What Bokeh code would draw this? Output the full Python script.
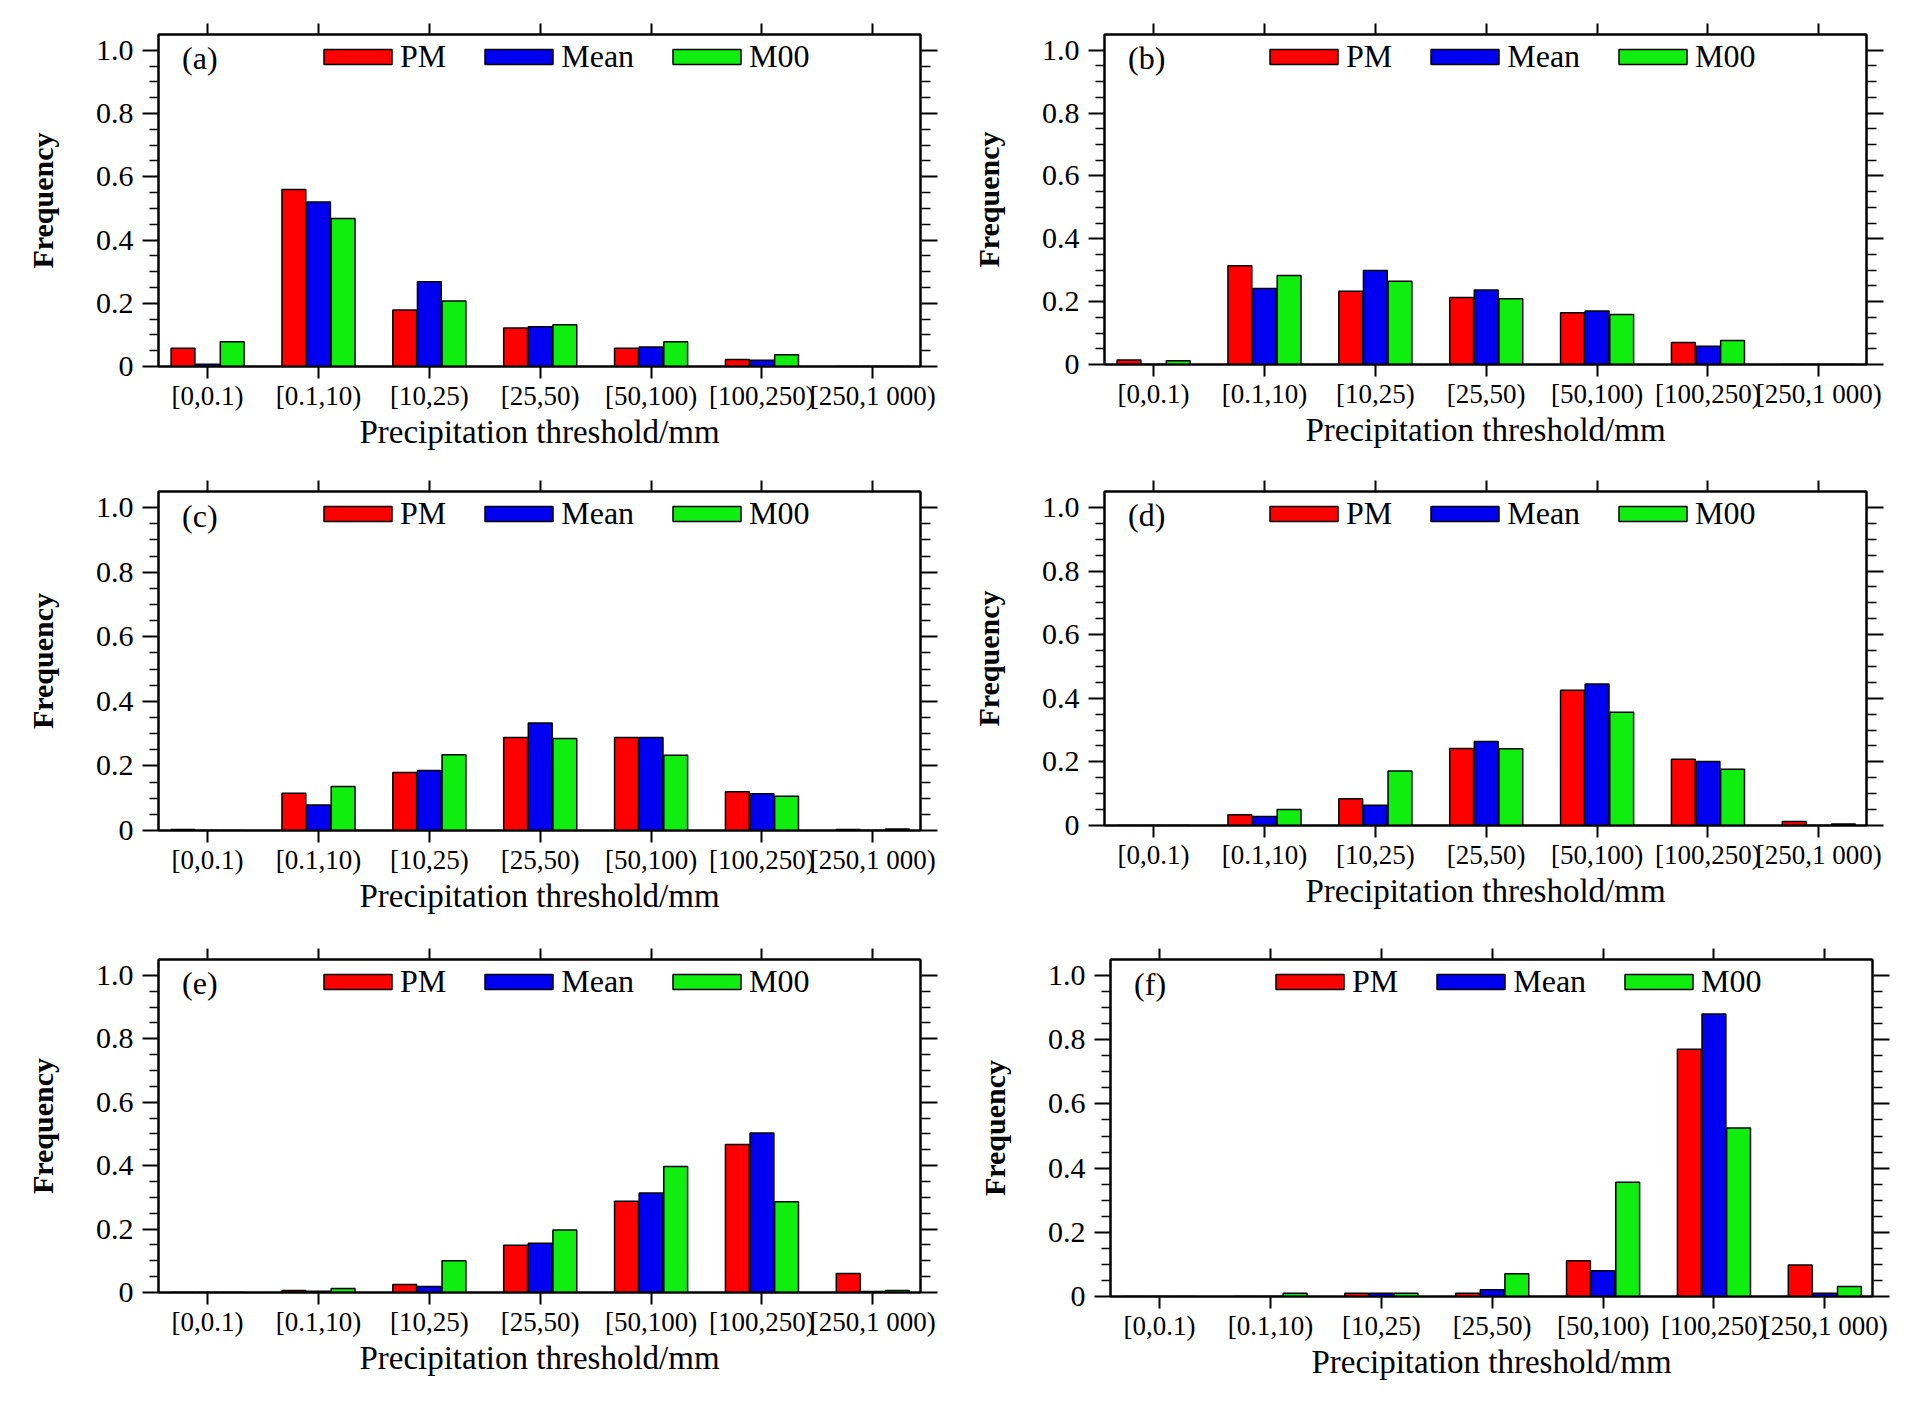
from bokeh.plotting import figure
from bokeh.models import (Range1d, FixedTicker, LinearAxis, Legend, LegendItem, Label,
                          ColumnDataSource, CustomJSTickFormatter)
from bokeh.layouts import column, row
from bokeh.transform import dodge
from bokeh.embed import file_html
from bokeh.resources import INLINE

# ---------------- data ----------------
categories = ["[0,0.1)", "[0.1,10)", "[10,25)", "[25,50)", "[50,100)", "[100,250)", "[250,1 000)"]
series_names = ["PM", "Mean", "M00"]
series_colors = ["#ff0000", "#0000f0", "#10ee10"]
panel_tags = ["(a)", "(b)", "(c)", "(d)", "(e)", "(f)"]

pm_a   = [0.058, 0.560, 0.179, 0.122, 0.058, 0.022, 0.0]
mean_a = [0.007, 0.520, 0.268, 0.126, 0.062, 0.020, 0.0]
m00_a  = [0.078, 0.468, 0.207, 0.132, 0.078, 0.037, 0.0]

pm_b   = [0.014, 0.314, 0.233, 0.213, 0.165, 0.070, 0.0]
mean_b = [0.0,   0.242, 0.299, 0.237, 0.170, 0.058, 0.0]
m00_b  = [0.012, 0.283, 0.265, 0.209, 0.159, 0.076, 0.0]

pm_c   = [0.003, 0.115, 0.180, 0.288, 0.288, 0.120, 0.003]
mean_c = [0.0,   0.079, 0.186, 0.333, 0.288, 0.114, 0.0]
m00_c  = [0.0,   0.136, 0.235, 0.285, 0.233, 0.106, 0.005]

pm_d   = [0.0, 0.034, 0.084, 0.242, 0.425, 0.208, 0.0125]
mean_d = [0.0, 0.028, 0.064, 0.264, 0.445, 0.201, 0.0]
m00_d  = [0.0, 0.050, 0.171, 0.241, 0.356, 0.177, 0.005]

pm_e   = [0.0, 0.006,  0.025, 0.149, 0.288, 0.467, 0.060]
mean_e = [0.0, 0.004,  0.019, 0.155, 0.314, 0.503, 0.003]
m00_e  = [0.0, 0.0125, 0.100, 0.197, 0.397, 0.286, 0.006]

pm_f   = [0.0, 0.0,    0.0105, 0.0105, 0.111, 0.770, 0.098]
mean_f = [0.0, 0.0,    0.0105, 0.021,  0.080, 0.880, 0.0105]
m00_f  = [0.0, 0.0105, 0.0105, 0.071,  0.356, 0.525, 0.031]

y_ticks = [0, 0.2, 0.4, 0.6, 0.8, 1.0]
y_tick_labels = ["0", "0.2", "0.4", "0.6", "0.8", "1.0"]
y_minor_ticks = [0.05, 0.1, 0.15, 0.25, 0.3, 0.35, 0.45, 0.5, 0.55,
                 0.65, 0.7, 0.75, 0.85, 0.9, 0.95]
x_title = "Precipitation threshold/mm"
y_title = "Frequency"

panel_data = [
    (pm_a, mean_a, m00_a),
    (pm_b, mean_b, m00_b),
    (pm_c, mean_c, m00_c),
    (pm_d, mean_d, m00_d),
    (pm_e, mean_e, m00_e),
    (pm_f, mean_f, m00_f),
]

# ---------------- style / layout ----------------
FONT = "Liberation Serif"
FRAME_W = 762
# (border_left, border_top, frame_height, border_bottom, border_right)
geometry = [
    (158, 34, 332, 104, 48),
    (135, 34, 330, 106, 47),
    (158, 21, 339, 108, 48),
    (136, 21, 334, 113, 46),
    (158, 21, 333, 107, 48),
    (142, 21, 337, 103, 40),
]
BAR_W = 0.215
OFFSETS = [-0.222, 0.0, 0.222]
empty_fmt = CustomJSTickFormatter(code="return ''")


def make_panel(idx):
    bl, bt, fh, bb, br = geometry[idx]
    pm, mean, m00 = panel_data[idx]
    src = ColumnDataSource(dict(x=list(range(len(categories))), cat=categories,
                                PM=pm, Mean=mean, M00=m00))
    p = figure(frame_width=FRAME_W, frame_height=fh,
               min_border_left=bl, min_border_right=br,
               min_border_top=bt, min_border_bottom=bb,
               x_range=Range1d(-0.443, 6.43), y_range=Range1d(0, 1.05),
               x_axis_location=None, y_axis_location=None,
               output_backend="svg", toolbar_location=None)
    p.grid.visible = False
    p.outline_line_color = "black"
    p.outline_line_width = 2
    p.background_fill_color = "white"
    p.border_fill_color = "white"

    xt = FixedTicker(ticks=list(range(len(categories))), minor_ticks=[])
    yt = FixedTicker(ticks=y_ticks, minor_ticks=y_minor_ticks)

    bottom = LinearAxis(ticker=xt, axis_label=x_title,
                        major_label_overrides={i: c for i, c in enumerate(categories)})
    bottom.major_tick_out = 12
    bottom.major_tick_in = 0
    bottom.minor_tick_out = 0
    bottom.major_label_standoff = 2
    bottom.major_label_text_font = FONT
    bottom.major_label_text_font_size = "27px"
    bottom.major_label_text_color = "black"
    bottom.axis_label_text_font = FONT
    bottom.axis_label_text_font_size = "33px"
    bottom.axis_label_text_font_style = "normal"
    bottom.axis_label_text_color = "black"
    bottom.axis_label_standoff = 0
    bottom.axis_line_width = 2
    bottom.major_tick_line_width = 2
    p.add_layout(bottom, "below")

    top = LinearAxis(ticker=xt, formatter=empty_fmt)
    top.major_tick_out = 11
    top.major_tick_in = 0
    top.minor_tick_out = 0
    top.axis_line_width = 2
    top.major_tick_line_width = 2
    top.major_label_standoff = 0
    p.add_layout(top, "above")

    left = LinearAxis(ticker=yt, axis_label=y_title,
                      major_label_overrides=dict(zip(y_ticks, y_tick_labels)))
    left.major_tick_out = 16
    left.major_tick_in = 0
    left.minor_tick_out = 9
    left.minor_tick_in = 0
    left.major_label_standoff = 9
    left.major_label_text_font = FONT
    left.major_label_text_font_size = "30px"
    left.major_label_text_color = "black"
    left.axis_label_text_font = FONT
    left.axis_label_text_font_size = "30px"
    left.axis_label_text_font_style = "bold"
    left.axis_label_text_color = "black"
    left.axis_label_standoff = 34
    left.axis_line_width = 2
    left.major_tick_line_width = 2
    left.minor_tick_line_width = 1.5
    p.add_layout(left, "left")

    right = LinearAxis(ticker=yt, formatter=empty_fmt)
    right.major_tick_out = 17
    right.major_tick_in = 0
    right.minor_tick_out = 10
    right.minor_tick_in = 0
    right.major_label_standoff = 0
    right.axis_line_width = 2
    right.major_tick_line_width = 2
    right.minor_tick_line_width = 1.5
    p.add_layout(right, "right")

    renderers = []
    for name, col, off in zip(series_names, series_colors, OFFSETS):
        r = p.vbar(x=dodge("x", off), top=name, width=BAR_W, bottom=0, source=src,
                   fill_color=col, line_color="black", line_width=1.5)
        renderers.append(r)

    # Bokeh insets area legend glyphs by 10% on each side
    legend = Legend(items=[LegendItem(label=n, renderers=[r])
                           for n, r in zip(series_names, renderers)],
                    orientation="horizontal", location=(157, fh - 41),
                    glyph_width=85, glyph_height=19, label_standoff=-6, spacing=30,
                    padding=0, margin=0, border_line_color=None,
                    background_fill_alpha=0,
                    label_text_font=FONT, label_text_font_size="32px",
                    label_text_color="black")
    p.add_layout(legend)

    p.add_layout(Label(x=-0.23, y=0.975, text=panel_tags[idx], text_font=FONT,
                       text_font_size="32px", text_baseline="middle",
                       text_color="black"))
    return p


panels = [make_panel(i) for i in range(6)]
layout = column(row(panels[0], panels[1]),
                row(panels[2], panels[3]),
                row(panels[4], panels[5]))

with open("out.html", "w") as f:
    f.write(file_html(layout, INLINE))
